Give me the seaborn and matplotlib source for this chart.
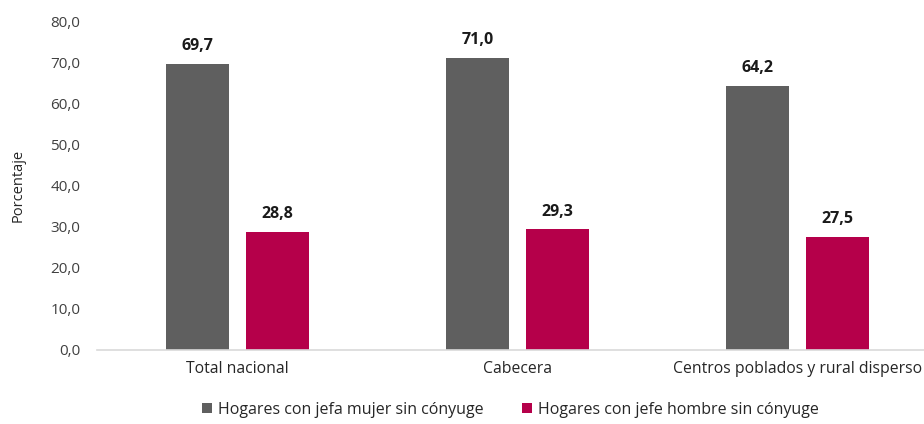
import numpy as np
import pandas as pd
import matplotlib
matplotlib.use("Agg")
import matplotlib.pyplot as plt
import seaborn as sns

categorias = ["Total nacional", "Cabecera", "Centros poblados y rural disperso"]
series = ["Hogares con jefa mujer sin cónyuge", "Hogares con jefe hombre sin cónyuge"]
jefa_mujer = [69.7, 71.0, 64.2]
jefe_hombre = [28.8, 29.3, 27.5]
yticks = [0, 10, 20, 30, 40, 50, 60, 70, 80]

df = pd.DataFrame({
    "categoria": categorias * 2,
    "serie": [series[0]] * 3 + [series[1]] * 3,
    "valor": jefa_mujer + jefe_hombre,
})

sns.set_style("white")
plt.rcParams["font.family"] = ["Open Sans", "DejaVu Sans"]

fig, ax = plt.subplots(figsize=(9.24, 4.24), dpi=100)
fig.subplots_adjust(left=0.105, right=1.0, top=0.95, bottom=0.175)

sns.barplot(data=df, x="categoria", y="valor", hue="serie",
            palette=["#5f5f5f", "#b5004a"], saturation=1, width=0.57, gap=0.21,
            edgecolor="none", ax=ax)

for cont in ax.containers:
    ax.bar_label(cont, labels=[f"{v:.1f}".replace(".", ",") for v in cont.datavalues],
                 padding=7, fontsize=11.5, fontweight="bold", color="#1a1a1a")

ax.set_ylim(0, 80)
ax.set_xlim(-0.5, 2.45)
ax.set_yticks(yticks)
ax.set_yticklabels([f"{t:.1f}".replace(".", ",") for t in yticks])
ax.tick_params(axis="y", labelsize=11, colors="#404040", pad=12, length=0)
ax.tick_params(axis="x", labelsize=11.3, colors="#262626", pad=8, length=0)
ax.set_xlabel("")
ax.set_ylabel("Porcentaje", fontsize=10.5, color="#262626")
ax.yaxis.set_label_coords(-0.086, 0.5)

for s in ["top", "right", "left"]:
    ax.spines[s].set_visible(False)
ax.spines["bottom"].set_color("#d9d9d9")
ax.spines["bottom"].set_linewidth(1.2)

handles, labels = ax.get_legend_handles_labels()
ax.legend(handles, labels, loc="center", bbox_to_anchor=(0.5, -0.183),
          ncol=2, frameon=False, fontsize=11.5, handlelength=0.6, handleheight=0.6,
          handletextpad=0.4, columnspacing=2.4, labelcolor="#262626")

fig.savefig("out.png", dpi=100)
